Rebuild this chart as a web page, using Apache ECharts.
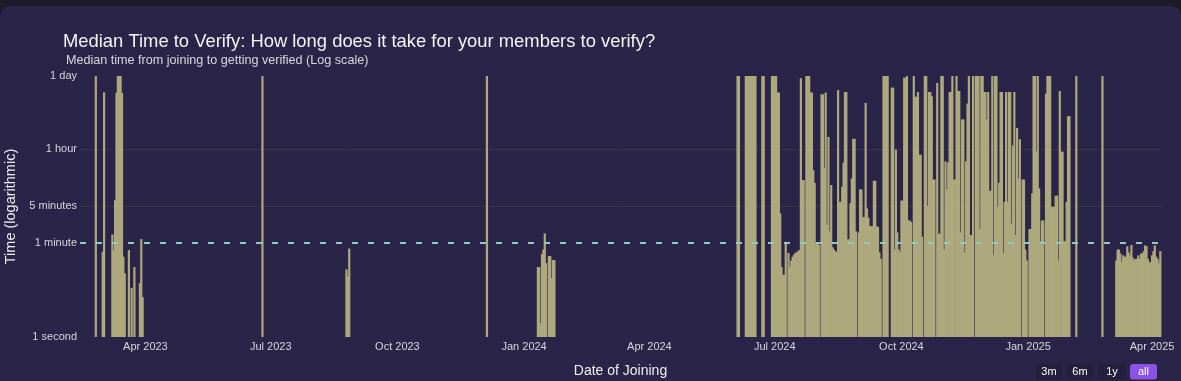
<!DOCTYPE html>
<html><head><meta charset="utf-8">
<script src="https://cdn.jsdelivr.net/npm/echarts@6/dist/echarts.min.js"></script>
<style>
html,body{margin:0;padding:0;width:1181px;height:381px;overflow:hidden;background:#1d1a29;}
#panel{position:absolute;left:0;top:6px;width:1181px;height:390px;background:#2b2449;border-radius:10px;}
#chart{position:absolute;left:0;top:0;width:1181px;height:381px;}
</style></head><body>
<div id="panel"></div><div id="chart"></div>
<script>
// ---------------- DATA ----------------
const titleText = 'Median Time to Verify: How long does it take for your members to verify?';
const subtitleText = 'Median time from joining to getting verified (Log scale)';

// daily median time to verify (seconds); null = no data that day
const segmentStarts = ['2023-02-24', '2023-06-25', '2023-08-25', '2023-12-05', '2024-01-11', '2024-06-04'];
const segFeb2023 = [86400, null, null, null, null, 41, 42300, null, null, null, null, null,
  87, 44, 389, 41600, 86400, 86400, 86400, 41600, 33, 16, null, null, 44, null, 8.5, null, 21,
  null, null, null, 10.5, 71, 5.7];
const segJun2023 = [86400];
const segAug2023 = [19, 14, 47];
const segDec2023 = [86400];
const segJan2024 = [21, 21, 1.8, 37, 45, 91, 25, null, 34, 34, 13, 28.5, 28.5];
const segJun2024 = [
  86400, 86400, null, null, null, null,
  86400, 86400, 86400, 86400, 86400, 86400, 86400, 86400,
  null, null, null, null, 86400, 86400, null, null, null, null, null,
  86400, 86400, 86400, 86400, 42000, 42000,
  218, 21, 15, 15, 63, null,
  39, 21, 28, 33, 36, 39, 40, 42, 44,
  78000, 930, 930, null,
  86400, 86400, 86400, 42000, 42000, 1440, 820, 60, 60, 55, null,
  39000, 39000, 1570, 42000, 131, 6100, 98, 750, 50, 45, 42, 40,
  47000, 360, 360, 700, 2000, 43000, 43000, 70, 70, 340, 1000, 5600, 5600, 100, null,
  95, 620, 620, 185, 185, 26800, 270, 180, 125, 125, 125, 900, 900, 125, 120, 40, 30, null,
  86400, 86400, 86400, 86400, null, null,
  52000, 52000, 45, 3500, 95, 45, 40, 380, 380, 80000, 80000, 86400, 160, 160, 150, null,
  86400, 35000, 35000, 43000, 2800, 2800, 79, null,
  86400, 86400, 300, 43000, 43000, 36000, 950, 950, null,
  64000, 90, 90, 86400, 86400, 45, 2100, 620, 2000, 43000, 43000, 86400, 950, 950, 86400,
  45000, 45000, 95, 13000, 13000, 40, 2100, 26000, 86400, 85, 85, 86400, null,
  86400, 86400, 86400, 110, 86400, 86400, 43000, 43000, 13000, 43000, 580, 580, 86400, 36,
  86400, 86400, 290, 820, 43000, 43000, 38, 360, 43000, 360, 43000, 43000, 140, 4200, 43000,
  85, 9000, 1000, 5500, null,
  950, 950, 45, 28, null,
  110, 110, 520, 86400, 86400, 3200, 86400, 650, 65, 160, 160, null,
  40000, 86400, 86400, 86400, 290, 290, 290, 470, 470, 28, 45000, 3200, 3200, 65, 65, 360, 15000, 15000,
  null, null, null, null, 86400,
  null, null, null, null, null, null, null, null, null, null, null, null, null, null, null, null, null, null,
  86400, null, null, null, null, null, null, null, null, null,
  28, 45, 45, 38, 26, 35, 33, 33, 52, 40, 35, 55, 32, 28, 30, 30, 35, 30, 38, 38, 42, 54, 52,
  30, 26, 26, 35, 42, 54, 33, 30, 25, 42
];
const segmentValues = [segFeb2023, segJun2023, segAug2023, segDec2023, segJan2024, segJun2024];

const xTickDates = ['2023-04-01', '2023-07-01', '2023-10-01', '2024-01-01', '2024-04-01',
  '2024-07-01', '2024-10-01', '2025-01-01', '2025-04-01'];
const xTickLabels = ['Apr 2023', 'Jul 2023', 'Oct 2023', 'Jan 2024', 'Apr 2024',
  'Jul 2024', 'Oct 2024', 'Jan 2025', 'Apr 2025'];
const yTickValues = [1, 60, 300, 3600, 86400];
const yTickLabels = ['1 second', '1 minute', '5 minutes', '1 hour', '1 day'];
const referenceValue = 60; // dashed line at 1 minute
const gridValues = [300, 3600];
const rangeButtons = ['3m', '6m', '1y', 'all'];
const xMinDate = '2023-02-12';
const xMaxDate = '2025-04-07';

// ---------------- BUILD ----------------
const DAY = 86400000;
function parseDay(s) { const p = s.split('-').map(Number); return Date.UTC(p[0], p[1] - 1, p[2]); }
const barData = [];
segmentStarts.forEach((s, si) => {
  const t0 = parseDay(s);
  segmentValues[si].forEach((v, i) => { if (v != null) barData.push([t0 + i * DAY, v]); });
});
const xTickValues = xTickDates.map(parseDay);

const FONT = "'Liberation Sans', Arial, Helvetica, sans-serif";
const chart = echarts.init(document.getElementById('chart'), null, {renderer: 'canvas'});

const btnX = [1036, 1066.5, 1098, 1130];
const btnW = [26, 27, 28, 27];
const graphics = [];
rangeButtons.forEach((b, i) => {
  const active = b === 'all';
  graphics.push({type: 'rect', left: btnX[i], top: 364, shape: {width: btnW[i], height: 15.5, r: 3},
    style: {fill: active ? '#8b52e6' : '#241f3c'}, silent: true});
  graphics.push({type: 'text', x: btnX[i] + btnW[i] / 2, y: 372,
    style: {text: b, fill: '#ffffff', font: '11px ' + FONT, textAlign: 'center', textVerticalAlign: 'middle'}, silent: true});
});

function findLabel(vals, labels, v) {
  for (let i = 0; i < vals.length; i++) { if (Math.abs(v - vals[i]) <= Math.abs(vals[i]) * 1e-6 + 1e-9) return labels[i]; }
  return '';
}

chart.setOption({
  animation: false,
  backgroundColor: 'transparent',
  title: [
    {text: titleText, left: 63, top: 33, padding: 0,
     textStyle: {fontFamily: FONT, fontSize: 18.4, fontWeight: 'normal', color: '#f4f4f6'}},
    {text: subtitleText, left: 66, top: 54, padding: 0,
     textStyle: {fontFamily: FONT, fontSize: 12.6, fontWeight: 'normal', color: '#d8d8dc'}}
  ],
  grid: {left: 80, right: 20, top: 76, bottom: 44, containLabel: false, outerBoundsMode: 'none'},
  xAxis: {
    type: 'value', min: parseDay(xMinDate) + DAY / 2, max: parseDay(xMaxDate) + DAY / 2,
    axisLine: {show: false}, axisTick: {show: false}, splitLine: {show: false},
    axisLabel: {customValues: xTickValues, formatter: v => findLabel(xTickValues, xTickLabels, v),
      color: '#d6d6da', fontSize: 11, fontFamily: FONT, margin: 4, hideOverlap: false},
    name: 'Date of Joining', nameLocation: 'middle', nameGap: 27,
    nameTextStyle: {color: '#eeeeee', fontSize: 14, fontFamily: FONT}
  },
  yAxis: {
    type: 'log', logBase: 10, min: 1, max: 86400,
    axisLine: {show: false}, axisTick: {show: false}, splitLine: {show: false},
    axisLabel: {customValues: yTickValues, formatter: v => findLabel(yTickValues, yTickLabels, v),
      color: '#d6d6da', fontSize: 11, fontFamily: FONT, margin: 3, verticalAlign: 'middle', padding: [2, 0, 0, 0]},
    name: 'Time (logarithmic)', nameLocation: 'middle', nameGap: 57,
    nameTextStyle: {color: '#eeeeee', fontSize: 14.5, fontFamily: FONT}
  },
  series: [
    {type: 'line', data: [], z: 0, silent: true,
     markLine: {silent: true, z: 0, symbol: 'none', label: {show: false},
       lineStyle: {type: 'solid', color: '#3a3346', width: 1},
       data: gridValues.map(v => ({yAxis: v}))}},
    {type: 'bar', data: barData, barWidth: 2.2, z: 2,
     itemStyle: {color: '#aea87d'},
     markLine: {silent: true, z: 5, symbol: 'none', label: {show: false},
       lineStyle: {type: [6, 10], color: '#8ccdbe', width: 2},
       data: [{yAxis: referenceValue}]}}
  ],
  graphic: graphics
});
</script></body></html>
